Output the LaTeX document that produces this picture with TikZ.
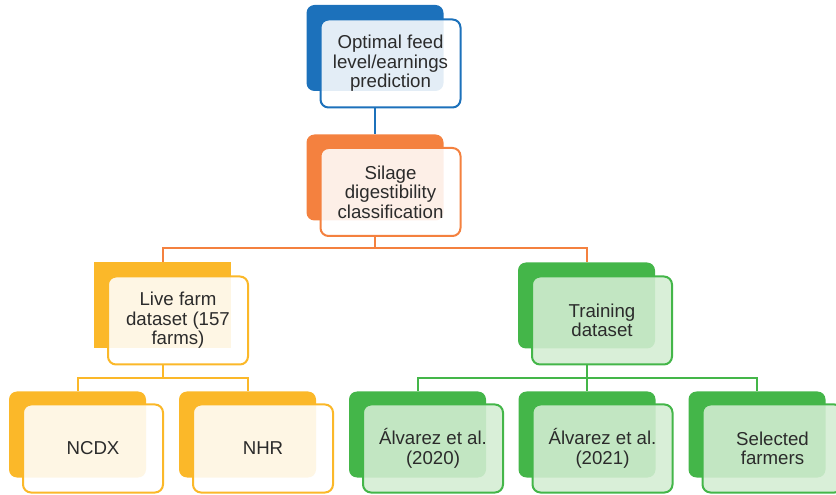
\documentclass[tikz,border=0pt]{standalone}
\usepackage{fontspec}
\setmainfont{Liberation Sans}
\definecolor{fbblue}{HTML}{1C71BB}
\definecolor{fborange}{HTML}{F4813F}
\definecolor{fbyellow}{HTML}{FBB829}
\definecolor{fbgreen}{HTML}{44B649}
\definecolor{fbgreenfill}{HTML}{D4EDD3}
\definecolor{fbtext}{HTML}{2B2B2B}
\tikzset{
  backbox/.style = {fill = #1, draw = none, rounded corners = 6pt, inner sep = 0pt,
    minimum width = 102.75pt, minimum height = 64.5pt},
  frontbox/.style = {draw = #1, line width = 1.5pt, fill = white, fill opacity = .88, text opacity = 1,
    rounded corners = 6pt, minimum width = 105pt, minimum height = 66pt, inner sep = 0pt,
    align = center, text = fbtext, font = \fontsize{14}{14.6}\selectfont},
  link/.style = {draw = #1, line width = 1.5pt},
}
\begin{document}
\begin{tikzpicture}[x = .75pt, y = -.75pt]
\useasboundingbox (0,0) rectangle (836,495);
% top level
\node[backbox = fbblue] (feedb) at (375,48) {};
\node[frontbox = fbblue] (feedf) at (390.5,63.5) {Optimal feed\\level/earnings\\prediction};
\node[backbox = fborange] (silb) at (375,177.5) {};
\node[frontbox = fborange] (silf) at (390.5,192) {Silage\\digestibility\\classification};
% datasets
\node[backbox = fbyellow, sharp corners] (liveb) at (162.5,305.5) {};
\node[frontbox = fbyellow] (livef) at (178,320.5) {Live farm\\dataset (157\\farms)};
\node[backbox = fbgreen] (trainb) at (586.5,305.5) {};
\node[frontbox = fbgreen, fill = fbgreenfill] (trainf) at (602,320.5) {Training\\dataset};
% bottom row
\node[backbox = fbyellow] (ncdxb) at (77.5,434.5) {};
\node[frontbox = fbyellow] (ncdxf) at (93,448.5) {NCDX};
\node[backbox = fbyellow] (nhrb) at (247.5,434.5) {};
\node[frontbox = fbyellow] (nhrf) at (263,448.5) {NHR};
\node[backbox = fbgreen] (alvab) at (417.5,434.5) {};
\node[frontbox = fbgreen, fill = fbgreenfill] (alvaf) at (433,448.5) {Álvarez et al.\\(2020)};
\node[backbox = fbgreen] (alvbb) at (587,434.5) {};
\node[frontbox = fbgreen, fill = fbgreenfill] (alvbf) at (602.5,448.5) {Álvarez et al.\\(2021)};
\node[backbox = fbgreen] (selb) at (757,434.5) {};
\node[frontbox = fbgreen, fill = fbgreenfill] (self) at (772.5,448.5) {Selected\\farmers};
% connectors
\draw[link = fbblue] (feedb |- feedf.south) -- (silb.north);
\draw[link = fborange] (silb |- silf.south) -- ++(0,11) -| (liveb.north);
\draw[link = fborange] (silb |- silf.south) -- ++(0,11) -| (trainb.north);
\draw[link = fbyellow] (liveb |- livef.south) -- ++(0,13) -| (ncdxb.north);
\draw[link = fbyellow] (liveb |- livef.south) -- ++(0,13) -| (nhrb.north);
\draw[link = fbgreen] (trainb |- trainf.south) -- ++(0,13) -| (alvab.north);
\draw[link = fbgreen] (trainb |- trainf.south) -- ++(0,13) -| (alvbb.north);
\draw[link = fbgreen] (trainb |- trainf.south) -- ++(0,13) -| (selb.north);
\end{tikzpicture}
\end{document}
